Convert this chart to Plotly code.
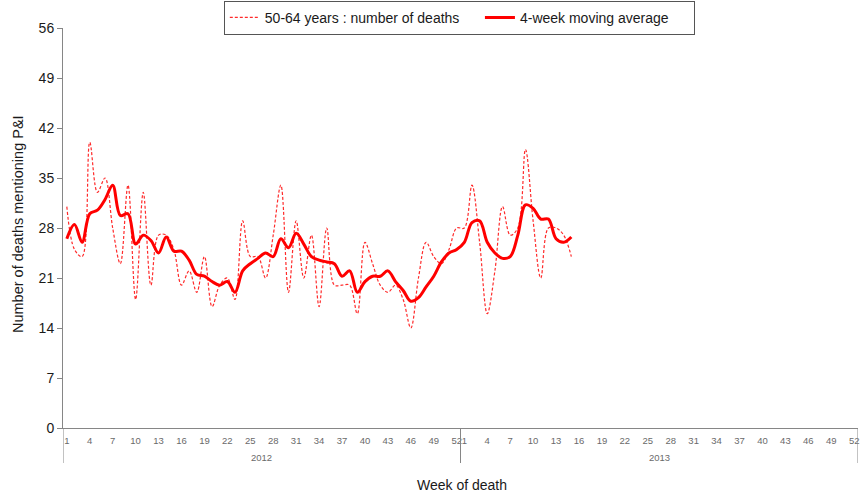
import plotly.graph_objects as go

# ---- data ----
years = ["2012", "2013"]
weeks_per_year = 52
weeks_2012 = list(range(1, 53))
weeks_2013 = list(range(1, 16))

deaths_2012 = [31, 25, 24, 40, 33, 35, 28, 23, 34, 18, 33, 20, 27, 27, 25, 20, 22, 19, 24, 17,
               20, 21, 18, 29, 24, 24, 21, 27, 34, 19, 29, 21, 27, 17, 28, 20, 20, 20, 16, 26,
               23, 20, 19, 20, 18, 14, 21, 26, 24, 23, 25, 28]
deaths_2013 = [28, 34, 26, 16, 22, 31, 27, 28, 39, 29, 21, 28, 28, 27, 24]

ma_2012 = [26.5, 28.5, 26, 30, 30.5, 32, 34, 29.75, 30, 25.75, 27, 26.25, 24.5, 26.75, 24.75, 24.75,
           23.5, 21.5, 21.25, 20.5, 20, 20.5, 19, 22, 23, 23.75, 24.5, 24, 26.5, 25.25, 27.25, 25.75,
           24, 23.5, 23.25, 23, 21.25, 22, 19, 20.5, 21.25, 21.25, 22, 20.5, 19.25, 17.75, 18.25,
           19.75, 21.25, 23.25, 24.5, 25]
ma_2013 = [26, 28.75, 29, 26, 24.5, 23.75, 24, 27, 31.25, 30.75, 29.25, 29.25, 26.5, 26, 26.75]

tick_weeks = list(range(1, 53, 3)) + [52]
y_ticks = list(range(0, 57, 7))

# ---- positions on a continuous week index ----
x_all = [w - 1 for w in weeks_2012] + [weeks_per_year + w - 1 for w in weeks_2013]
deaths_all = deaths_2012 + deaths_2013
ma_all = ma_2012 + ma_2013

tickvals, ticktext = [], []
for yi in range(len(years)):
    for w in tick_weeks:
        tickvals.append(yi * weeks_per_year + w - 1)
        ticktext.append(str(w))

FONT = "Liberation Sans, Arial, sans-serif"
AXIS_GREY = "#868686"
NB = "&nbsp;"

fig = go.Figure()
fig.add_trace(go.Scatter(
    x=x_all, y=deaths_all, mode="lines", name="50-64 years : number of deaths" + NB * 4,
    line=dict(color="#ff2a2a", width=1.2, dash="3px,2px", shape="spline", smoothing=1.0),
))
fig.add_trace(go.Scatter(
    x=x_all, y=ma_all, mode="lines", name="4-week moving average" + NB * 5,
    line=dict(color="#ff0000", width=3, shape="spline", smoothing=1.0),
))

n_total = len(years) * weeks_per_year
fig.update_layout(
    width=860, height=497,
    margin=dict(l=63, r=2, t=28, b=69, autoexpand=False),
    paper_bgcolor="white", plot_bgcolor="white",
    font=dict(family=FONT, color="#1a1a1a"),
    showlegend=True,
    legend=dict(
        orientation="h", x=0.4985, xanchor="center", y=1.068, yanchor="top",
        bordercolor="#555555", borderwidth=1, bgcolor="white",
        font=dict(size=14, family=FONT, color="#1a1a1a"),
        itemwidth=30,
    ),
    xaxis=dict(
        range=[-0.5, n_total - 0.5], automargin=False,
        tickmode="array", tickvals=tickvals, ticktext=ticktext,
        ticks="outside", ticklen=4, tickcolor="rgba(0,0,0,0)",
        showgrid=False, zeroline=False,
        showline=True, linecolor=AXIS_GREY, linewidth=1,
        tickfont=dict(size=9.5, color="#6a6a6a", family=FONT),
        tickangle=0,
    ),
    yaxis=dict(
        range=[0, 56], automargin=False, tickmode="array", tickvals=y_ticks,
        ticks="outside", ticklen=5, tickcolor=AXIS_GREY,
        showgrid=False, zeroline=False,
        showline=True, linecolor=AXIS_GREY, linewidth=1,
        tickfont=dict(size=14, color="#1a1a1a", family=FONT),
    ),
)

# year group dividers and labels
for b in [-0.5, weeks_per_year - 0.5, n_total - 0.5]:
    fig.add_shape(type="line", xref="x", yref="paper", x0=b, x1=b, y0=0, y1=-0.0875,
                  line=dict(color=AXIS_GREY, width=1))
for yi, yr in enumerate(years):
    fig.add_annotation(x=yi * weeks_per_year + (weeks_per_year - 1) / 2, xref="x",
                       y=-0.0725, yref="paper", text=yr, showarrow=False,
                       font=dict(size=9.5, color="#6a6a6a", family=FONT),
                       xanchor="center", yanchor="middle")

fig.add_annotation(x=0.5025, xref="paper", y=-0.1425, yref="paper", text="Week of death",
                   showarrow=False, font=dict(size=14, color="#1a1a1a", family=FONT),
                   xanchor="center", yanchor="middle")
fig.add_annotation(x=-0.0566, xref="paper", y=0.51, yref="paper",
                   text="Number of deaths mentioning P&I", textangle=-90,
                   showarrow=False, font=dict(size=14.5, color="#1a1a1a", family=FONT),
                   xanchor="center", yanchor="middle")

fig.write_html(
    "out.html",
    config={"displayModeBar": False},
    post_script="document.body.style.margin='0';document.body.style.padding='0';"
                "document.body.style.overflow='hidden';",
)
